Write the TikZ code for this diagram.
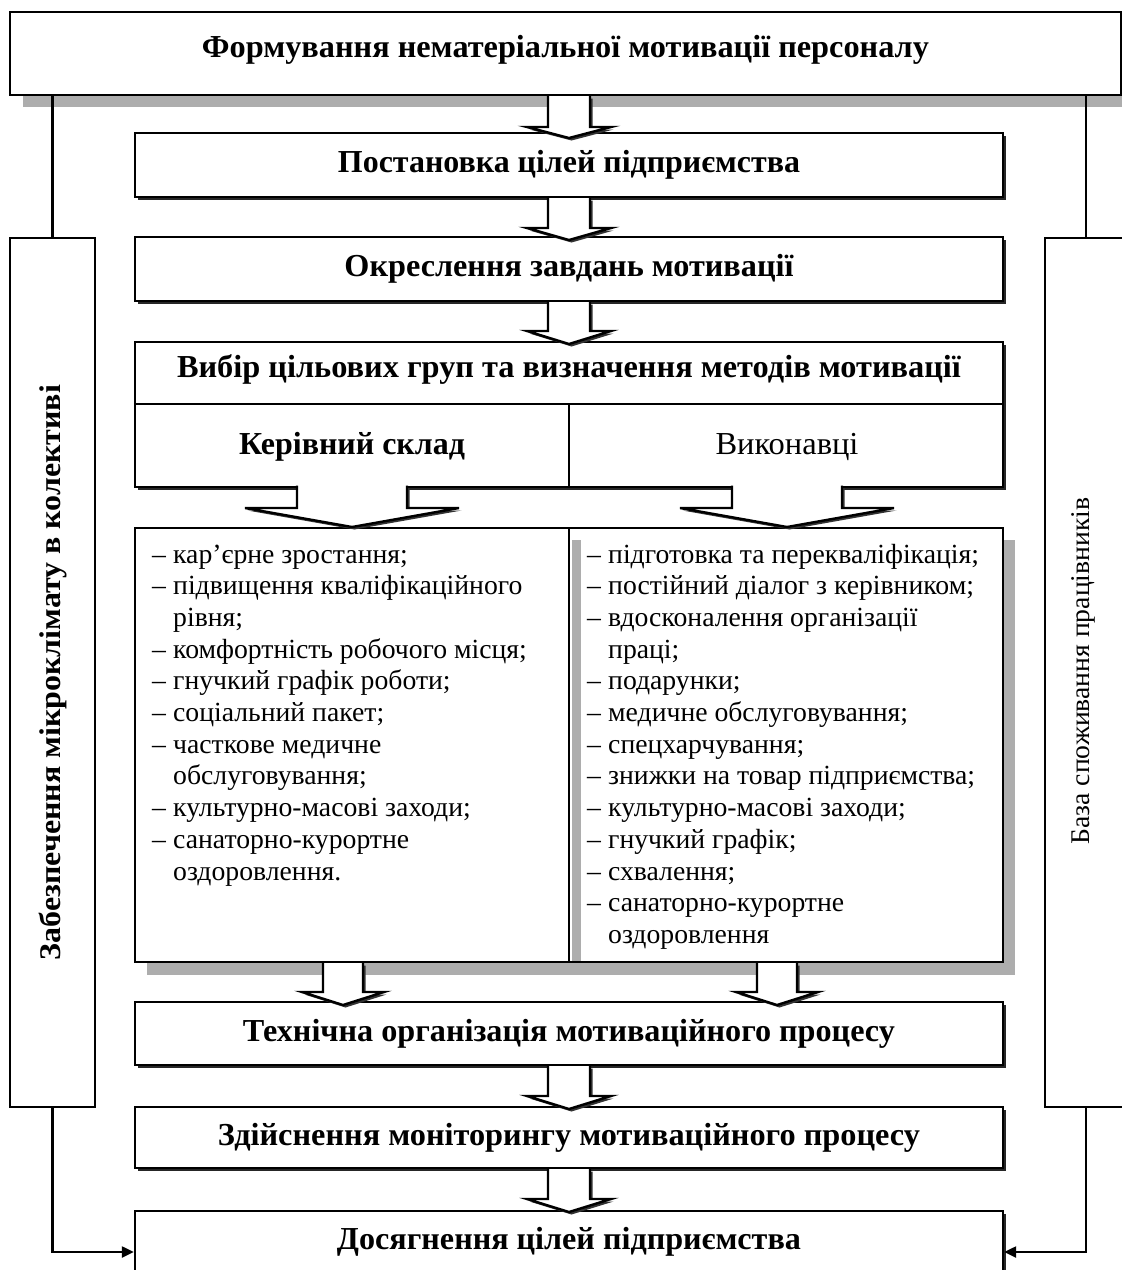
\documentclass[tikz,border=0pt]{standalone}
\usepackage{fontspec}
\setmainfont{Liberation Serif}
\usepackage{graphicx}
\usetikzlibrary{shadows,arrows.meta}
\newcommand\fitw[2]{\resizebox{#1pt}{\height}{#2}}
\newcommand\lidash{\makebox[21pt][l]{–}}
\newcommand\liind{\hspace*{21pt}}
\newcommand\blkarrow[6]{%
  \fill[black!80,shift={(2.5,2.5)}] (#1-#5,#2) -- (#1-#5,#3) -- (#1-#6,#3) -- (#1,#4) -- (#1+#6,#3) -- (#1+#5,#3) -- (#1+#5,#2) -- cycle;
  \fill[white] (#1-#5,#2) -- (#1-#5,#3) -- (#1-#6,#3) -- (#1,#4) -- (#1+#6,#3) -- (#1+#5,#3) -- (#1+#5,#2) -- cycle;
  \draw[ln] (#1-#5,#2) -- (#1-#5,#3) -- (#1-#6,#3) -- (#1,#4) -- (#1+#6,#3) -- (#1+#5,#3) -- (#1+#5,#2);}
\tikzset{
  ln/.style={line width=2.4pt, line join=miter, draw=black},
  plainbox/.style={ln, fill=white, inner sep=0pt},
  cbox/.style={plainbox, minimum width=868pt, drop shadow={shadow xshift=3pt, shadow yshift=-3pt, fill=black, opacity=0.85}},
  tbox/.style={plainbox, drop shadow={shadow xshift=13pt, shadow yshift=-12pt, fill=black!32, opacity=1}},
  hdr/.style={font=\fontsize{32}{36}\selectfont\bfseries, inner sep=0pt},
  hdrreg/.style={font=\fontsize{32}{36}\selectfont, inner sep=0pt},
  listtxt/.style={font=\fontsize{27.7}{31.7}\selectfont, inner sep=0pt, anchor=base west},
  sidebf/.style={font=\fontsize{30}{36}\selectfont\bfseries, inner sep=0pt, rotate=90},
  sidereg/.style={font=\fontsize{27}{32}\selectfont, inner sep=0pt, rotate=90},
  conn/.style={ln, -{Triangle[length=12pt,width=11pt]}},
}
\begin{document}
\begin{tikzpicture}[x=1pt,y=-1pt]
\useasboundingbox (0,0) rectangle (1122,1270);
\fill[white] (0,0) rectangle (1122,1270);
% side boxes
\node[plainbox, minimum width=85pt, minimum height=869pt] (lside) at (52.5,672.5) {};
\node[sidebf] (ltxt) at (lside.center) {\fitw{575}{Забезпечення мікроклімату в колективі}};
\node[plainbox, minimum width=82pt, minimum height=869pt] (rside) at (1086,672.5) {};
\node[sidereg] (rtxt) at (1083,671) {\fitw{347}{База споживання працівників}};
% top box
\node[tbox, minimum width=1111pt, minimum height=83pt] (top) at (565.5,53.5) {};
\node[hdr] (ttl) at (565.5,50) {\fitw{727}{Формування нематеріальної мотивації персоналу}};
% center boxes
\node[cbox, minimum height=64pt] (b2) at (569,165) {};
\node[hdr] (t2) at (569,165) {\fitw{462}{Постановка цілей підприємства}};
\node[cbox, minimum height=64pt] (b3) at (569,269) {};
\node[hdr] (t3) at (569,269) {\fitw{449}{Окреслення завдань мотивації}};
\node[cbox, minimum height=145pt] (b4) at (569,414.5) {};
\node[hdr] (t4) at (569,369) {\fitw{784}{Вибір цільових груп та визначення методів мотивації}};
\draw[ln] (b4.west |- 0,404) -- (b4.east |- 0,404);
\draw[ln] (569,404) -- (b4.south);
\node[hdr] (ks) at (352,447) {\fitw{226}{Керівний склад}};
\node[hdrreg] (vk) at (787,447) {\fitw{143}{Виконавці}};
% list boxes
\fill[black!32] (147,540) rectangle (1015,975);
\node[plainbox, minimum width=434pt, minimum height=434pt] (ll) at (352,745) {};
\node[plainbox, minimum width=434pt, minimum height=434pt] (rl) at (786,745) {};
\fill[black!32] (571.5,540) rectangle (581,960.5);
\foreach \t [count=\i from 0] in {
  {\lidash кар’єрне зростання;},
  {\lidash підвищення кваліфікаційного},
  {\liind рівня;},
  {\lidash комфортність робочого місця;},
  {\lidash гнучкий графік роботи;},
  {\lidash соціальний пакет;},
  {\lidash часткове медичне},
  {\liind обслуговування;},
  {\lidash культурно-масові заходи;},
  {\lidash санаторно-курортне},
  {\liind оздоровлення.}}
  \node[listtxt] (la\i) at (152,{563+\i*31.7}) {\t};
\foreach \t [count=\i from 0] in {
  {\lidash підготовка та перекваліфікація;},
  {\lidash постійний діалог з керівником;},
  {\lidash вдосконалення організації},
  {\liind праці;},
  {\lidash подарунки;},
  {\lidash медичне обслуговування;},
  {\lidash спецхарчування;},
  {\lidash знижки на товар підприємства;},
  {\lidash культурно-масові заходи;},
  {\lidash гнучкий графік;},
  {\lidash схвалення;},
  {\lidash санаторно-курортне},
  {\liind оздоровлення}}
  \node[listtxt] (lb\i) at (587,{563+\i*31.7}) {\t};
% lower boxes
\node[cbox, minimum height=63pt] (b5) at (569,1033.5) {};
\node[hdr] (t5) at (569,1033.5) {\fitw{652}{Технічна організація мотиваційного процесу}};
\node[cbox, minimum height=61pt] (b6) at (569,1137.5) {};
\node[hdr] (t6) at (569,1137.5) {\fitw{702}{Здійснення моніторингу мотиваційного процесу}};
\node[cbox, minimum height=62pt] (b7) at (569,1242) {};
\node[hdr] (t7) at (569,1242) {\fitw{464}{Досягнення цілей підприємства}};
% block arrows
\blkarrow{569}{96.2}{127}{138}{21}{42}
\blkarrow{569}{198.2}{228}{240}{21}{42}
\blkarrow{569}{302.2}{331}{344}{21}{42}
\blkarrow{352}{485.5}{508}{527}{55}{107}
\blkarrow{787}{485.5}{508}{527}{55}{107}
\blkarrow{343}{963.2}{992}{1005}{20}{41}
\blkarrow{777}{963.2}{992}{1005}{20}{41}
\blkarrow{569}{1066.2}{1096}{1109}{21}{42}
\blkarrow{569}{1169.2}{1199}{1212}{21}{42}
% side connectors
\draw[ln] (lside.north) -- (lside.north |- top.south);
\draw[ln] (rside.north) -- (rside.north |- top.south);
\draw[conn] (lside.south) |- ([yshift=-10pt]b7.west);
\draw[conn] (rside.south) |- ([yshift=-10pt]b7.east);
\end{tikzpicture}
\end{document}
